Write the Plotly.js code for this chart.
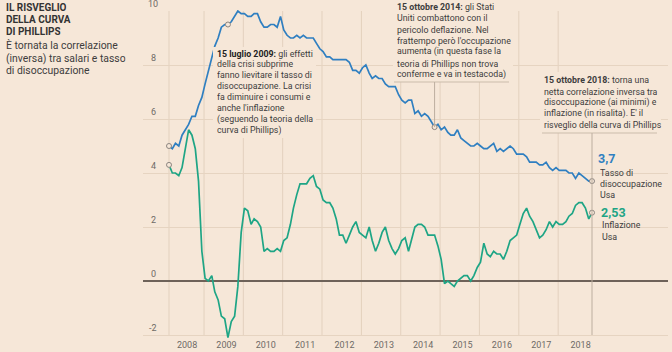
<!DOCTYPE html>
<html><head><meta charset="utf-8">
<script src="https://cdn.plot.ly/plotly-3.0.1.min.js"></script>
<style>html,body{margin:0;padding:0;background:#f6e7d8;}#chart{width:672px;height:352px;}</style>
</head><body><div id="chart"></div>
<script>
// Monthly data, Jan 2008 - Oct 2018
const unemployment = [
 5.0,4.9,5.1,5.0,5.4,5.6,5.8,6.1,6.1,6.5,6.8,7.3,
 7.8,8.3,8.7,9.0,9.4,9.5,9.5,9.6,9.8,10.0,9.9,9.9,
 9.8,9.8,9.9,9.9,9.6,9.4,9.4,9.5,9.5,9.4,9.8,9.3,
 9.1,9.0,9.0,9.1,9.0,9.1,9.0,9.0,9.0,8.8,8.6,8.5,
 8.3,8.3,8.2,8.2,8.2,8.2,8.2,8.1,7.8,7.8,7.7,7.9,
 8.0,7.7,7.5,7.6,7.5,7.5,7.3,7.2,7.2,7.2,6.9,6.7,
 6.6,6.7,6.7,6.2,6.3,6.1,6.2,6.1,5.9,5.7,5.8,5.6,
 5.7,5.5,5.4,5.4,5.6,5.3,5.2,5.1,5.0,5.0,5.1,5.0,
 4.9,4.9,5.0,5.1,4.8,4.9,4.8,4.9,5.0,4.9,4.7,4.7,
 4.7,4.6,4.4,4.4,4.4,4.3,4.3,4.4,4.2,4.1,4.2,4.1,
 4.1,4.1,4.0,4.0,3.8,4.0,3.9,3.8,3.7,3.7
];
const inflation = [
 4.3,4.0,4.0,3.9,4.2,5.0,5.6,5.4,4.9,3.7,1.1,0.1,
 0.0,0.2,-0.4,-0.7,-1.3,-1.4,-2.1,-1.5,-1.3,-0.2,1.8,2.7,
 2.6,2.1,2.3,2.2,2.0,1.1,1.2,1.1,1.1,1.2,1.1,1.5,
 1.6,2.1,2.7,3.2,3.6,3.6,3.6,3.8,3.9,3.5,3.4,3.0,
 2.9,2.9,2.7,2.3,1.7,1.7,1.4,1.7,2.0,2.2,1.8,1.7,
 1.6,2.0,1.5,1.1,1.4,1.8,2.0,1.5,1.2,1.0,1.2,1.5,
 1.6,1.1,1.5,2.0,2.1,2.1,2.0,1.7,1.7,1.7,1.3,0.8,
 -0.1,0.0,-0.1,-0.2,0.0,0.1,0.2,0.2,0.0,0.2,0.5,0.7,
 1.4,1.0,0.9,1.1,1.0,1.0,0.8,1.1,1.5,1.6,1.7,2.1,
 2.5,2.7,2.4,2.2,1.9,1.6,1.7,1.9,2.2,2.0,2.2,2.1,
 2.1,2.2,2.4,2.5,2.8,2.9,2.9,2.7,2.3,2.53
];
const yearLabels = ['2008','2009','2010','2011','2012','2013','2014','2015','2016','2017','2018'];
const yTicks = [-2,0,2,4,6,8,10];
const markedIdxBlue = [0,18,81,129];
const markedIdxGreen = [0,129];
const lastUnemp = '3,7';
const lastInfl = '2,53';

const BG='#f6e7d8', BLUE='#2f7fc1', GREEN='#1ea585', TXT='#3d3d3d', DARK='#222';
const FONT='Roboto, sans-serif';

const months = unemployment.map((_, i) => new Date(Date.UTC(2008, i, 15)).toISOString().slice(0,10));
const labelDates = yearLabels.map(y => y + '-07-01');
const gridDates = [months[0]].concat(yearLabels.slice(0,10).map(y => y + '-12-05'));

// plot geometry (pixels)
const L=143, R=668, T=10, B=338;
const DAY=86400000;
const t0 = Date.UTC(2008,0,15), t1 = Date.UTC(2018,9,15);
const pxPerDay = (592-169)/((t1-t0)/DAY);
const fmt = ms => new Date(ms).toISOString().slice(0,19).replace('T',' ');
const xRange = [fmt(t0 - (169-L)/pxPerDay*DAY), fmt(t0 + (R-169)/pxPerDay*DAY)];
const yMin=-2.111, yMax=10.037;
const px2x = p => (p-L)/(R-L);
const py2y = p => (B-p)/(B-T);
const v2paper = v => (v-yMin)/(yMax-yMin);

const traces = [
 {x:months, y:inflation, type:'scatter', mode:'lines', line:{color:GREEN, width:1.7}, hoverinfo:'skip', cliponaxis:false},
 {x:months, y:unemployment, type:'scatter', mode:'lines', line:{color:BLUE, width:1.7}, hoverinfo:'skip', cliponaxis:false},
 {x:markedIdxBlue.map(i=>months[i]).concat(markedIdxGreen.map(i=>months[i])),
  y:markedIdxBlue.map(i=>unemployment[i]).concat(markedIdxGreen.map(i=>inflation[i])),
  type:'scatter', mode:'markers', marker:{size:5, color:BG, line:{color:'#8c8580', width:1}}, hoverinfo:'skip', cliponaxis:false}
];

const shapes = [];
gridDates.forEach(d => shapes.push({type:'line', xref:'x', yref:'y', x0:d, x1:d, y0:-2, y1:10, line:{color:'#e3d1be', width:1}, layer:'below'}));
function box(x0,y0,x1,y1){ shapes.push({type:'rect', xref:'paper', yref:'paper', x0:px2x(x0), x1:px2x(x1), y0:py2y(y1), y1:py2y(y0), fillcolor:BG, line:{width:0}, layer:'above'}); }
box(213,47,316,138);
box(393,0,513,82);
box(540,72,661,133);
shapes.push({type:'line', xref:'paper', yref:'paper', x0:px2x(394), x1:px2x(509), y0:py2y(82), y1:py2y(82), line:{color:'#cbbcab', width:1}});
shapes.push({type:'line', xref:'paper', yref:'paper', x0:px2x(542), x1:px2x(657), y0:py2y(133), y1:py2y(133), line:{color:'#cbbcab', width:1}});
shapes.push({type:'line', xref:'x', yref:'paper', x0:months[81], x1:months[81], y0:py2y(82), y1:v2paper(unemployment[81]), line:{color:'#bcae9f', width:1}});
shapes.push({type:'line', xref:'x', yref:'paper', x0:months[129], x1:months[129], y0:py2y(133), y1:v2paper(-2), line:{color:'#bcae9f', width:1}});

const annotations = [];
function lines(arr, x, yFirst, sp, size, color){
  arr.forEach((t,i)=>annotations.push({xref:'paper', yref:'paper', x:px2x(x), y:py2y(yFirst+i*sp), xanchor:'left', yanchor:'middle', text:t, showarrow:false, borderpad:0, height: sp>0 ? sp : undefined, font:{family:FONT, size:size, color:color}}));
}
lines(['<b>IL RISVEGLIO</b>','<b>DELLA CURVA</b>','<b>DI PHILLIPS</b>'], 5, 7, 12.2, 10, '#333');
lines(['È tornata la correlazione','(inversa) tra salari e tasso','di disoccupazione'], 5, 45.5, 12.7, 10.4, TXT);
lines(['<b style="color:'+DARK+'">15 luglio 2009:</b> gli effetti','della crisi subprime','fanno lievitare il tasso di','disoccupazione. La crisi','fa diminuire i consumi e','anche l\'inflazione','(seguendo la teoria della','curva di Phillips)'], 216, 54, 10.95, 8.8, TXT);
lines(['<b>15 ottobre 2014:</b> gli Stati','Uniti combattono con il','pericolo deflazione. Nel','frattempo però l\'occupazione','aumenta (in questa fase la','teoria di Phillips non trova','conferme e va in testacoda)'], 396, 6.5, 11.3, 8.8, TXT);
lines(['<b>15 ottobre 2018:</b> torna una','netta correlazione inversa tra','disoccupazione (ai minimi) e','inflazione (in risalita). E\' il','risveglio della curva di Phillips'], 543, 80, 11.1, 8.8, TXT);
lines(['<b>'+lastUnemp+'</b>'], 597, 158, 0, 12.5, BLUE);
lines(['Tasso di','disoccupazione','Usa'], 599, 172, 11, 8.9, TXT);
lines(['<b>'+lastInfl+'</b>'], 600, 212, 0, 12.5, GREEN);
lines(['Inflazione','Usa'], 601, 225, 12, 8.9, TXT);
yTicks.forEach(v => annotations.push({xref:'paper', yref:'y', x:px2x(153), y:v, xanchor:'center', yanchor:'middle', yshift:7.5, text:String(v), showarrow:false, font:{family:FONT, size:9, color:'#6e6a66'}}));

const layout = {
  width:672, height:352,
  margin:{l:L, r:672-R, t:T, b:352-B, pad:0},
  paper_bgcolor:BG, plot_bgcolor:BG, showlegend:false,
  font:{family:FONT, color:TXT},
  xaxis:{type:'date', range:xRange, tickvals:labelDates, ticktext:yearLabels, showgrid:false, zeroline:false, showline:false, ticks:'', tickfont:{size:9, color:'#6e6a66'}, fixedrange:true},
  yaxis:{range:[yMin,yMax], tickvals:yTicks, showticklabels:false, showgrid:true, gridcolor:'#e6d4c1', gridwidth:1, zeroline:true, zerolinecolor:'#6e6259', zerolinewidth:1.3, ticks:'', fixedrange:true},
  shapes:shapes, annotations:annotations
};
Plotly.newPlot('chart', traces, layout, {staticPlot:true, displayModeBar:false});
</script></body></html>
